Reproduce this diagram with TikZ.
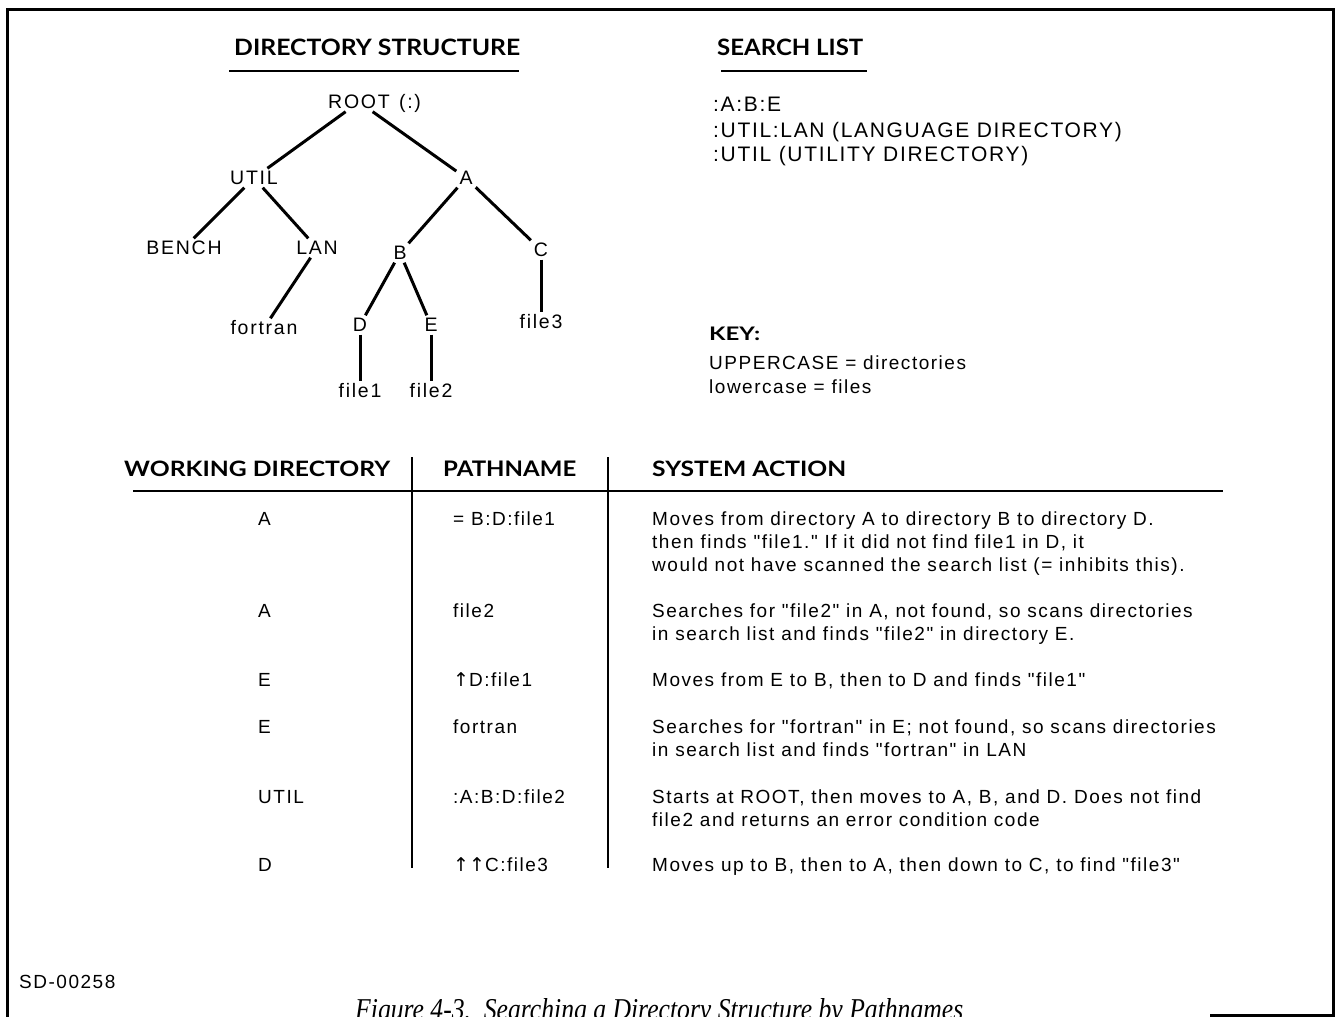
\documentclass[tikz,border=0pt]{standalone}
\usepackage{fontspec}
\usepackage{graphicx}
\setmainfont{Liberation Sans}
\newfontfamily\bodyfont[LetterSpace=8]{Liberation Sans}
\newfontfamily\treefont[LetterSpace=9]{Liberation Sans}
\newfontfamily\headfont{Lato}
\newfontfamily\capfont{Liberation Serif}
\newfontfamily\arrowfont{DejaVu Sans}
% bold heading squeezed to a given width and cap height
\newcommand\headtext[3]{\resizebox{#1}{#2}{\headfont\bfseries #3}}
\newcommand\pathup{{\arrowfont\char"2191}}

\begin{document}
\begin{tikzpicture}[x=1pt,y=-1pt,
  treelabel/.style={font=\treefont\fontsize{19.5}{22}\selectfont, inner sep=3pt,
                    text height=13pt, text depth=0pt},
  treeline/.style={line width=3pt},
  headlabel/.style={inner sep=0pt, anchor=base west},
  bodytext/.style={font=\bodyfont\fontsize{19}{22}\selectfont, inner sep=0pt, anchor=base west},
  listtext/.style={font=\bodyfont\fontsize{21}{24}\selectfont, inner sep=0pt, anchor=base west},
  ruleline/.style={line width=2pt},
  boxline/.style={line width=3pt}]

\useasboundingbox (0,0) rectangle (1336,1017);

% outer frame
\draw[boxline] (7,1020) -- (7,9) -- (1333,9) -- (1333,1015) -- (1210,1015);

% ---------- directory tree ----------
\node[headlabel] (dirhead) at (234,55.5) {\headtext{286pt}{16.5pt}{DIRECTORY STRUCTURE}};
\draw[ruleline] (229,71) -- (519,71);

\node[treelabel] (root)    at (359,102) {ROOT};
\node[treelabel] (rootsym) at (410,102) {(:)};
\node[treelabel] (util)    at (254,178) {UTIL};
\node[treelabel] (a)       at (466,178) {A};
\node[treelabel] (bench)   at (184,248) {BENCH};
\node[treelabel] (lan)     at (317,248) {LAN};
\node[treelabel] (b)       at (400,253) {B};
\node[treelabel] (c)       at (541,250) {C};
\node[treelabel] (fortran) at (264,328) {fortran};
\node[treelabel] (d)       at (360,325) {D};
\node[treelabel] (e)       at (431,325) {E};
\node[treelabel] (file3)   at (541,322) {file3};
\node[treelabel] (file1)   at (360,391) {file1};
\node[treelabel] (file2)   at (431,391) {file2};

\draw[treeline] (root) -- (util);
\draw[treeline] (root) -- (a);
\draw[treeline] (util) -- (bench);
\draw[treeline] (util) -- (lan);
\draw[treeline] (lan) -- (fortran);
\draw[treeline] (a) -- (b);
\draw[treeline] (a) -- (c);
\draw[treeline] (b) -- (d);
\draw[treeline] (b) -- (e);
\draw[treeline] (c) -- (file3);
\draw[treeline] (d) -- (file1);
\draw[treeline] (e) -- (file2);

% ---------- search list ----------
\node[headlabel] (srchead) at (717,55.5) {\headtext{146pt}{16.5pt}{SEARCH LIST}};
\draw[ruleline] (721,71) -- (867,71);
\node[listtext] (sl1) at (713,111) {:A:B:E};
\node[listtext] (sl2) at (713,137) {:UTIL:LAN (LANGUAGE DIRECTORY)};
\node[listtext] (sl3) at (713,161) {:UTIL (UTILITY DIRECTORY)};

% ---------- key ----------
\node[headlabel] (keyhead) at (709,340) {\headtext{51pt}{13.5pt}{KEY:}};
\node[bodytext] (key1) at (709,369) {UPPERCASE = directories};
\node[bodytext] (key2) at (709,393) {lowercase = files};

% ---------- table ----------
\node[headlabel] (th1) at (124,476) {\headtext{266pt}{15.5pt}{WORKING DIRECTORY}};
\node[headlabel] (th2) at (443,476) {\headtext{133pt}{15.5pt}{PATHNAME}};
\node[headlabel] (th3) at (652,476) {\headtext{194pt}{15.5pt}{SYSTEM ACTION}};
\draw[line width=2.5pt] (133,491) -- (1223,491);
\draw[ruleline] (412,457) -- (412,868);
\draw[ruleline] (608,457) -- (608,868);

% row 1
\node[bodytext] (w1) at (258,525) {A};
\node[bodytext] (p1) at (453,525) {= B:D:file1};
\node[bodytext] (s1a) at (652,525) {Moves from directory A to directory B to directory D.};
\node[bodytext] (s1b) at (652,548) {then finds "file1." If it did not find file1 in D, it};
\node[bodytext] (s1c) at (652,571) {would not have scanned the search list (= inhibits this).};
% row 2
\node[bodytext] (w2) at (258,617) {A};
\node[bodytext] (p2) at (453,617) {file2};
\node[bodytext] (s2a) at (652,617) {Searches for "file2" in A, not found, so scans directories};
\node[bodytext] (s2b) at (652,640) {in search list and finds "file2" in directory E.};
% row 3
\node[bodytext] (w3) at (258,686) {E};
\node[bodytext] (p3) at (453,686) {\pathup D:file1};
\node[bodytext] (s3a) at (652,686) {Moves from E to B, then to D and finds "file1"};
% row 4
\node[bodytext] (w4) at (258,733) {E};
\node[bodytext] (p4) at (453,733) {fortran};
\node[bodytext] (s4a) at (652,733) {Searches for "fortran" in E; not found, so scans directories};
\node[bodytext] (s4b) at (652,756) {in search list and finds "fortran" in LAN};
% row 5
\node[bodytext] (w5) at (258,803) {UTIL};
\node[bodytext] (p5) at (453,803) {:A:B:D:file2};
\node[bodytext] (s5a) at (652,803) {Starts at ROOT, then moves to A, B, and D. Does not find};
\node[bodytext] (s5b) at (652,826) {file2 and returns an error condition code};
% row 6
\node[bodytext] (w6) at (258,871) {D};
\node[bodytext] (p6) at (453,871) {\pathup\pathup C:file3};
\node[bodytext] (s6a) at (652,871) {Moves up to B, then to A, then down to C, to find "file3"};

% ---------- footer ----------
\node[bodytext] (sdno) at (19,988) {SD-00258};
\node[inner sep=0pt, anchor=base west] (caption) at (355,1019)
  {\resizebox{608pt}{21pt}{\capfont\itshape Figure 4-3.\ \ Searching a Directory Structure by Pathnames}};
\end{tikzpicture}
\end{document}
